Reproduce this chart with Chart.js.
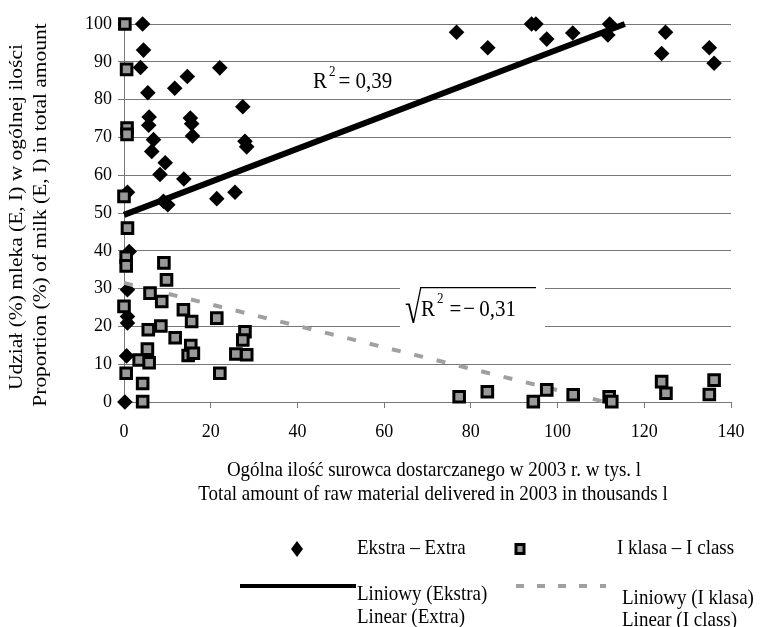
<!DOCTYPE html>
<html>
<head>
<meta charset="utf-8">
<script src="https://cdn.jsdelivr.net/npm/chart.js@4.4.1/dist/chart.umd.min.js"></script>
<style>
html,body{margin:0;padding:0;background:#fff;}
#c{display:block;}
</style>
</head>
<body>
<canvas id="c" width="764" height="627"></canvas>
<script>
// ---- data ----
const extraX = [0.8, 0.8, 0.8, 0.8, 0.6, 0.2, 1.2,
  4.3, 4.5, 3.8, 5.5, 5.8, 5.7, 6.8, 6.4, 8.3, 9.5, 9.1, 10.1, 11.7, 13.8, 14.6,
  15.3, 15.6, 15.8, 21.4, 22.1, 25.6, 27.4, 27.9, 28.3,
  76.7, 83.9, 94.0, 95.0, 97.5, 103.5, 112.0, 111.6, 124.9, 124.0, 135.0, 136.1];
const extraY = [55.5, 29.7, 22.6, 20.9, 12.2, 0.0, 39.8,
  100, 93.1, 88.5, 81.8, 75.4, 73.2, 69.4, 66.3, 60.2, 63.3, 53.1, 52.2, 83.0, 59.0, 86.1,
  75.1, 73.6, 70.4, 53.8, 88.4, 55.5, 78.1, 69.0, 67.5,
  97.8, 93.7, 100, 100, 96.0, 97.6, 100, 97.1, 97.8, 92.2, 93.7, 89.6];

const klasaX = [0.2, 0.6, 0.7, 0.7, 0.0, 0.8, 0.5, 0.5, 9.2, 9.8, 6.0, 8.7, 0.0,
  13.7, 15.6, 21.4, 5.6, 8.5, 11.8, 15.4, 14.8, 16.0, 27.9, 27.4, 25.8, 28.3, 22.1,
  5.4, 3.5, 5.8, 0.5, 4.3, 4.3,
  77.3, 83.8, 94.4, 97.5, 103.6, 111.9, 112.5, 124.0, 125.0, 136.1, 135.0];
const klasaY = [100, 88.0, 72.5, 70.8, 54.4, 46.0, 38.3, 36.0, 36.8, 32.3, 28.8, 26.6, 25.3,
  24.4, 21.3, 22.2, 19.1, 20.1, 17.0, 14.9, 12.3, 12.9, 18.6, 16.4, 12.7, 12.5, 7.6,
  14.0, 11.1, 10.4, 7.6, 4.9, 0.1,
  1.4, 2.7, 0.1, 3.2, 1.9, 1.4, 0.1, 5.4, 2.3, 5.8, 2.0];

const extraTrendX = [0, 115.5];
const extraTrendY = [49.5, 100];
const klasaTrendX = [0, 111];
const klasaTrendY = [31.5, 0];

const xTicks = [0, 20, 40, 60, 80, 100, 120, 140];
const yTicks = [0, 10, 20, 30, 40, 50, 60, 70, 80, 90, 100];

const xTitle = ['Ogólna ilość surowca dostarczanego w 2003 r. w tys. l',
                'Total amount of raw material delivered in 2003 in thousands l'];
const yTitle = ['Udział (%) mleka (E, I) w ogólnej ilości',
                'Proportion (%) of milk (E, I) in total amount'];
const legendLabels = ['Ekstra – Extra', 'I klasa – I class',
                      ['Liniowy (Ekstra)', 'Linear (Extra)'],
                      ['Liniowy (I klasa)', 'Linear (I class)']];
const r2Extra = '0,39';
const r2Klasa = '0,31';

// ---- build ----
const zip = (xs, ys) => xs.map((x, i) => ({x: x, y: ys[i]}));
const SERIF = '"Liberation Serif", "Times New Roman", serif';
const STRETCH = 1.13; // reference text is drawn a little taller than wide

function tallText(ctx, txt, x, y) {
  ctx.save();
  ctx.translate(x, y);
  ctx.scale(1, STRETCH);
  ctx.fillText(txt, 0, 0);
  ctx.restore();
}

const textPlugin = {
  id: 'texts',
  beforeDatasetsDraw(chart) {
    const ctx = chart.ctx;
    ctx.save();
    ctx.fillStyle = '#fff';
    ctx.fillRect(400, 283, 145, 46);
    ctx.restore();
  },
  afterDraw(chart) {
    const ctx = chart.ctx;
    ctx.save();
    ctx.fillStyle = '#000';
    ctx.strokeStyle = '#000';
    ctx.textBaseline = 'middle';

    // x axis title
    ctx.font = '19px ' + SERIF;
    ctx.textAlign = 'center';
    tallText(ctx, xTitle[0], 434, 470);
    tallText(ctx, xTitle[1], 433, 494);

    // y axis title (rotated, stretched along its length)
    ctx.save();
    ctx.translate(17, 217);
    ctx.rotate(-Math.PI / 2);
    ctx.scale(STRETCH, 1);
    ctx.fillText(yTitle[0], 0, 0);
    ctx.restore();
    ctx.save();
    ctx.translate(41, 215);
    ctx.rotate(-Math.PI / 2);
    ctx.scale(STRETCH, 1);
    ctx.fillText(yTitle[1], 0, 0);
    ctx.restore();

    // R^2 annotation (Extra)
    ctx.textAlign = 'left';
    ctx.textBaseline = 'alphabetic';
    let x = 313;
    ctx.font = '21px ' + SERIF;
    tallText(ctx, 'R', x, 88); x += ctx.measureText('R').width + 2;
    ctx.font = '13px ' + SERIF;
    tallText(ctx, '2', x, 76); x += ctx.measureText('2').width + 3;
    ctx.font = '21px ' + SERIF;
    tallText(ctx, '= ' + r2Extra, x, 88);

    // sqrt(R^2) annotation (I klasa): radical glyph fitted to 405..422 x 287..324
    ctx.font = '30px ' + SERIF;
    const m = ctx.measureText('√');
    const gw = m.actualBoundingBoxLeft + m.actualBoundingBoxRight;
    const gh = m.actualBoundingBoxAscent + m.actualBoundingBoxDescent;
    ctx.save();
    ctx.translate(405, 287);
    ctx.scale(17 / gw, 37 / gh);
    ctx.fillText('√', m.actualBoundingBoxLeft, m.actualBoundingBoxAscent);
    ctx.restore();
    ctx.lineWidth = 1.3;
    ctx.beginPath(); ctx.moveTo(420, 287.7); ctx.lineTo(536, 287.7); ctx.stroke();
    x = 421;
    ctx.font = '21px ' + SERIF;
    tallText(ctx, 'R', x, 316); x += ctx.measureText('R').width + 2;
    ctx.font = '13px ' + SERIF;
    tallText(ctx, '2', x, 303); x += ctx.measureText('2').width + 6;
    ctx.font = '21px ' + SERIF;
    tallText(ctx, '=', x, 316); x += ctx.measureText('=').width + 2;
    tallText(ctx, '−', x, 316); x += ctx.measureText('−').width + 4;
    tallText(ctx, r2Klasa, x, 316);

    // legend
    ctx.textBaseline = 'middle';
    ctx.font = '19px ' + SERIF;
    // diamond
    ctx.beginPath();
    ctx.moveTo(297, 541); ctx.lineTo(303, 549); ctx.lineTo(297, 557); ctx.lineTo(291, 549);
    ctx.closePath(); ctx.fill();
    tallText(ctx, legendLabels[0], 357, 548);
    // square
    ctx.fillStyle = '#000';
    ctx.fillRect(514.5, 543, 11, 12);
    ctx.fillStyle = '#999';
    ctx.fillRect(517.5, 546, 5, 6);
    ctx.fillStyle = '#000';
    tallText(ctx, legendLabels[1], 617, 548);
    // solid line
    ctx.lineWidth = 4;
    ctx.beginPath(); ctx.moveTo(240, 586); ctx.lineTo(356, 586); ctx.stroke();
    tallText(ctx, legendLabels[2][0], 357, 594);
    tallText(ctx, legendLabels[2][1], 357, 617);
    // dashed line
    ctx.strokeStyle = '#a0a0a0';
    ctx.setLineDash([8, 13]);
    ctx.beginPath(); ctx.moveTo(516, 586); ctx.lineTo(606, 586); ctx.stroke();
    ctx.setLineDash([]);
    tallText(ctx, legendLabels[3][0], 622, 598);
    tallText(ctx, legendLabels[3][1], 622, 620);
    ctx.restore();
  }
};

new Chart(document.getElementById('c'), {
  type: 'scatter',
  data: {
    datasets: [
      { label: 'I klasa – I class', data: zip(klasaX, klasaY), pointStyle: 'rect',
        pointRadius: 7.5, pointHoverRadius: 7.5, backgroundColor: '#999', borderColor: '#000',
        borderWidth: 3, order: 0, clip: false },
      { type: 'line', label: 'Liniowy (I klasa)', data: zip(klasaTrendX, klasaTrendY),
        borderColor: '#a0a0a0', borderWidth: 4, borderDash: [9, 14], pointRadius: 0,
        fill: false, order: 1, clip: false },
      { type: 'line', label: 'Liniowy (Ekstra)', data: zip(extraTrendX, extraTrendY),
        borderColor: '#000', borderWidth: 6, pointRadius: 0, fill: false, order: 2, clip: false },
      { label: 'Ekstra – Extra', data: zip(extraX, extraY), pointStyle: 'rectRot',
        pointRadius: 7.8, pointHoverRadius: 7.8, backgroundColor: '#000', borderColor: '#000',
        borderWidth: 0, order: 3, clip: false }
    ]
  },
  options: {
    responsive: false,
    animation: false,
    devicePixelRatio: 1,
    events: [],
    layout: { padding: { top: 24, right: 33, left: 0, bottom: 0 } },
    plugins: { legend: { display: false }, tooltip: { enabled: false } },
    scales: {
      x: {
        type: 'linear', min: 0, max: 140,
        afterBuildTicks: s => { s.ticks = xTicks.map(v => ({value: v})); },
        afterFit: s => { s.height = 225; },
        grid: { drawOnChartArea: false, drawTicks: true, tickLength: 6, color: '#777' },
        border: { display: true, color: '#777', width: 1 },
        ticks: { font: { family: SERIF, size: 18 }, color: '#000', padding: 13, maxRotation: 0 }
      },
      y: {
        type: 'linear', min: 0, max: 100,
        afterBuildTicks: s => { s.ticks = yTicks.map(v => ({value: v})); },
        afterFit: s => { s.width = 124; },
        grid: { color: '#777', drawTicks: true, tickLength: 6 },
        border: { display: true, color: '#777', width: 1 },
        ticks: { font: { family: SERIF, size: 18 }, color: '#000', padding: 6 }
      }
    }
  },
  plugins: [textPlugin]
});
</script>
</body>
</html>
